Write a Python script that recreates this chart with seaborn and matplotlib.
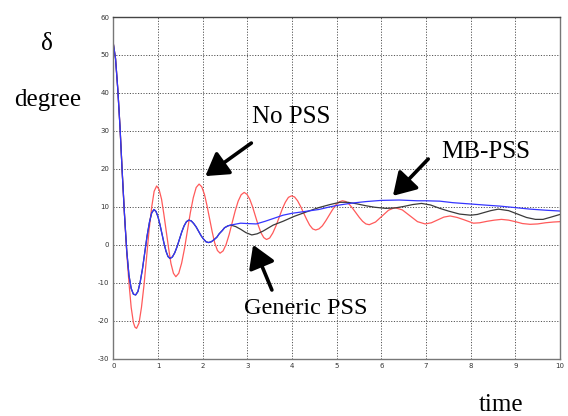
import matplotlib
matplotlib.use("Agg")
import matplotlib.pyplot as plt
import seaborn as sns
import pandas as pd

# ---- data ----
t_nopss = [0, 0.05, 0.1, 0.15, 0.2, 0.25, 0.3, 0.35, 0.4, 0.45, 0.485, 0.52,
           0.576, 0.63, 0.689, 0.745, 0.801, 0.86, 0.914, 0.97,
           1.024, 1.08, 1.131, 1.185, 1.239, 1.29, 1.346, 1.40,
           1.465, 1.53, 1.595, 1.66, 1.725, 1.79, 1.855, 1.92,
           1.979, 2.04, 2.096, 2.155, 2.214, 2.27, 2.331, 2.39,
           2.458, 2.525, 2.593, 2.66, 2.728, 2.795, 2.863, 2.93,
           2.993, 3.055, 3.118, 3.18, 3.243, 3.305, 3.368, 3.43,
           3.50, 3.57, 3.64, 3.71, 3.78, 3.85, 3.92, 3.99,
           4.058, 4.125, 4.193, 4.26, 4.328, 4.395, 4.463, 4.53,
           4.605, 4.68, 4.755, 4.83, 4.905, 4.98, 5.055, 5.13,
           5.205, 5.28, 5.355, 5.43, 5.505, 5.58, 5.655, 5.73,
           5.87, 6.015, 6.16, 6.3, 6.47, 6.64, 6.81, 6.98,
           7.12, 7.26, 7.4, 7.54, 7.7, 7.85, 8.06, 8.2, 8.37, 8.53, 8.69, 8.85, 9.0,
           9.16, 9.33, 9.5, 9.67, 9.85, 10.0]
y_nopss = [53, 49, 41, 31, 19, 8, -2, -10, -16.5, -20.5, -21.7, -22,
           -20.6, -16.5, -10.4, -3.25, 3.9, 10.0, 14.1, 15.5,
           14.6, 12.0, 8.1, 3.55, -1.0, -4.9, -7.5, -8.4,
           -7.5, -4.8, -0.9, 3.8, 8.5, 12.4, 15.1, 16.0,
           15.3, 13.3, 10.4, 6.9, 3.4, 0.5, -1.5, -2.2,
           -1.6, 0.1, 2.7, 5.8, 8.9, 11.5, 13.2, 13.8,
           13.3, 12.0, 10.0, 7.6, 5.2, 3.2, 1.9, 1.4,
           1.8, 3.1, 4.95, 7.15, 9.35, 11.2, 12.5, 12.9,
           12.6, 11.6, 10.1, 8.4, 6.7, 5.2, 4.2, 3.9,
           4.2, 5.0, 6.3, 7.75, 9.2, 10.5, 11.3, 11.6,
           11.4, 10.7, 9.65, 8.45, 7.25, 6.2, 5.5, 5.3,
           6.0, 7.55, 9.1, 9.8, 9.2, 7.65, 6.1, 5.5,
           5.8, 6.55, 7.3, 7.6, 7.2, 6.6, 5.7, 5.8, 6.2, 6.5, 6.7, 6.5, 6.1,
           5.6, 5.4, 5.5, 5.8, 6.0, 6.1]

t_common = [0, 0.05, 0.1, 0.15, 0.2, 0.25, 0.3, 0.35, 0.4, 0.45, 0.5,
            0.551, 0.60, 0.654, 0.705, 0.756, 0.81, 0.859, 0.91,
            0.955, 1.0, 1.045, 1.09, 1.135, 1.18, 1.225, 1.27,
            1.3225, 1.375, 1.4275, 1.48, 1.5325, 1.585, 1.6375, 1.69,
            1.745, 1.8, 1.855, 1.91, 1.965, 2.02, 2.075, 2.13,
            2.1925, 2.25, 2.3175, 2.37, 2.4425, 2.49, 2.5675, 2.63]
y_common = [53, 49, 41, 31, 19, 8, -1.5, -8, -11.5, -13, -13.2,
            -12.3, -9.9, -6.25, -1.95, 2.35, 6.0, 8.4, 9.3,
            8.8, 7.4, 5.3, 2.85, 0.4, -1.7, -3.1, -3.6,
            -3.2, -2.1, -0.5, 1.45, 3.4, 5.0, 6.1, 6.5,
            6.3, 5.6, 4.7, 3.55, 2.4, 1.5, 0.8, 0.6,
            0.8, 1.3, 2.0, 2.9, 3.8, 4.5, 5.0, 5.2]

t_generic_tail = [2.74, 2.85, 2.97, 3.1, 3.22, 3.35, 3.58, 3.8, 4.05, 4.33, 4.6,
                  4.85, 5.07, 5.25, 5.45, 5.65, 5.85, 6.1, 6.3, 6.5, 6.7, 6.9,
                  7.1, 7.31, 7.5, 7.75, 8.0, 8.15, 8.3, 8.45, 8.62, 8.85, 9.05,
                  9.25, 9.45, 9.62, 9.8, 10.0]
y_generic_tail = [4.8, 4.1, 3.2, 2.6, 2.9, 3.6, 5.2, 6.2, 7.5, 8.7, 9.8,
                  10.6, 11.2, 11.2, 10.8, 10.3, 9.9, 9.6, 9.7, 10.1, 10.6, 10.9,
                  10.5, 9.6, 8.9, 8.1, 7.8, 8.0, 8.5, 9.0, 9.4, 9.0, 8.1,
                  7.2, 6.7, 6.7, 7.3, 8.0]

t_mb_tail = [2.85, 3.0, 3.2, 3.4, 3.6, 3.8, 4.0, 4.3, 4.6, 4.85, 5.07, 5.35,
             5.67, 6.0, 6.4, 6.8, 7.0, 7.31, 7.6, 8.06, 8.4, 8.65, 9.0, 9.33,
             9.7, 10.0]
y_mb_tail = [5.7, 5.6, 5.5, 6.2, 7.0, 7.8, 8.3, 8.8, 9.3, 10.0, 10.5, 11.0,
             11.4, 11.7, 11.8, 11.6, 11.6, 11.5, 11.1, 10.7, 10.4, 10.2, 9.8, 9.4,
             9.1, 8.9]

x_ticks = list(range(0, 11))
y_ticks = [-30, -20, -10, 0, 10, 20, 30, 40, 50, 60]

series_names = ["No PSS", "Generic PSS", "MB-PSS"]
series_colors = ["#ff5a5a", "#3a3a3a", "#3535ff"]

frames = [
    pd.DataFrame({"time": t_nopss, "delta": y_nopss, "series": "No PSS"}),
    pd.DataFrame({"time": t_common + t_generic_tail,
                  "delta": y_common + y_generic_tail, "series": "Generic PSS"}),
    pd.DataFrame({"time": t_common + t_mb_tail,
                  "delta": y_common + y_mb_tail, "series": "MB-PSS"}),
]
df = pd.concat(frames, ignore_index=True)

sns.set_style("white")
plt.rcParams["font.family"] = ["DejaVu Sans"]

fig = plt.figure(figsize=(5.68, 4.16), dpi=100)
ax = fig.add_axes([0.1995, 0.1377, 0.7864, 0.8214])

sns.lineplot(data=df, x="time", y="delta", hue="series", hue_order=series_names,
             palette=series_colors, sort=False, estimator=None, linewidth=0.9,
             legend=False, ax=ax)

ax.set_xlim(0, 10)
ax.set_ylim(-30, 60)
ax.set_xticks(x_ticks)
ax.set_yticks(y_ticks)
ax.set_xticklabels([str(v) for v in x_ticks])
ax.set_yticklabels([str(v) for v in y_ticks])
ax.set_xlabel("")
ax.set_ylabel("")
ax.grid(True, linestyle=(0, (1.2, 1.6)), color="#555555", linewidth=0.7)
ax.tick_params(direction="in", length=4, width=0.8, color="#666666",
               labelsize=5, labelcolor="#333333", pad=3)
for side in ["left", "right", "bottom"]:
    ax.spines[side].set_color("#777777")
    ax.spines[side].set_linewidth(1.0)
ax.spines["top"].set_color("#444444")
ax.spines["top"].set_linewidth(1.0)

serif = ["Liberation Serif", "DejaVu Serif"]
tfs = 18
tcol = "black"

arrow_kw = dict(arrowstyle="-|>,head_length=0.9,head_width=0.55", color="black",
                lw=2.6, mutation_scale=15, shrinkA=0, shrinkB=0)

ax.text(3.98, 33.6, "No PSS", family=serif, fontsize=tfs, color=tcol,
        ha="center", va="center")
ax.annotate("", xy=(2.06, 18.1), xytext=(3.09, 26.8), arrowprops=arrow_kw)

ax.text(8.34, 24.4, "MB-PSS", family=serif, fontsize=tfs, color=tcol,
        ha="center", va="center")
ax.annotate("", xy=(6.26, 12.9), xytext=(7.05, 22.6), arrowprops=arrow_kw)

ax.text(4.30, -16.8, "Generic PSS", family=serif, fontsize=17.5, color=tcol,
        ha="center", va="center")
ax.annotate("", xy=(3.13, 0.0), xytext=(3.55, -11.9), arrowprops=arrow_kw)

fig.text(47 / 568, 1 - 44 / 416, "δ", family=serif, fontsize=tfs, color=tcol,
         ha="center", va="center")
fig.text(48 / 568, 1 - 100 / 416, "degree", family=serif, fontsize=tfs, color=tcol,
         ha="center", va="center")
fig.text(501 / 568, 1 - 405 / 416, "time", family=serif, fontsize=tfs, color=tcol,
         ha="center", va="center")

fig.savefig("out.png", dpi=100)
